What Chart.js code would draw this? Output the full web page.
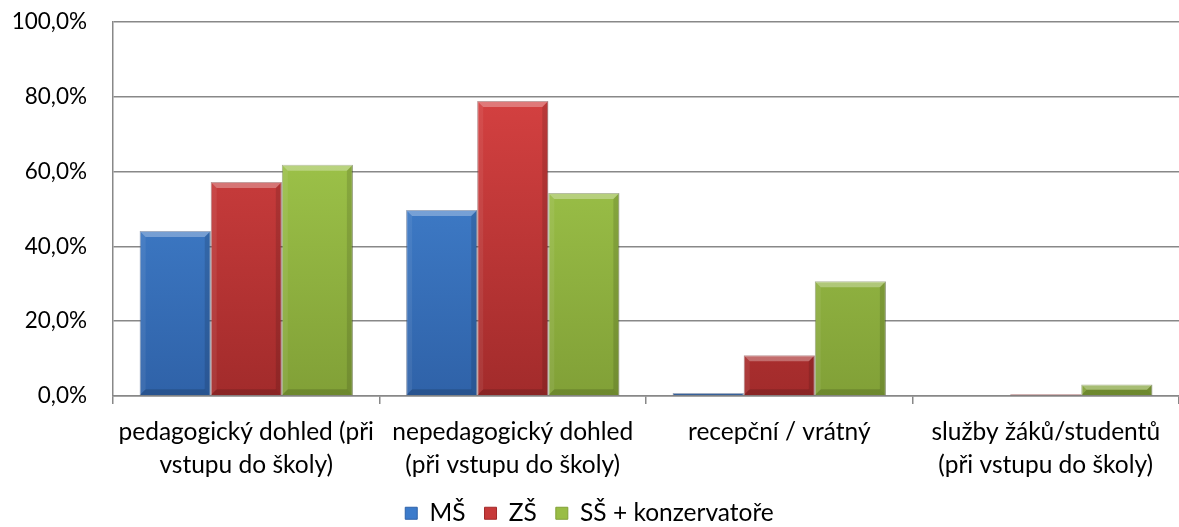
<!DOCTYPE html>
<html>
<head>
<meta charset="utf-8">
<script src="https://cdn.jsdelivr.net/npm/chart.js@4/dist/chart.umd.min.js"></script>
<style>
  html, body { margin: 0; padding: 0; background: #fff; }
  #wrap { width: 1179px; height: 527px; position: relative; }
</style>
</head>
<body>
<div id="wrap"><canvas id="chart"></canvas></div>
<script>
// data
const categories = [
  ["pedagogický dohled (při", "vstupu do školy)"],
  ["nepedagogický dohled", "(při vstupu do školy)"],
  ["recepční / vrátný"],
  ["služby žáků/studentů", "(při vstupu do školy)"]
]
const seriesNames = ["MŠ", "ZŠ", "SŠ + konzervatoře"]
const msValues = [44.1, 49.7, 0.8, 0]
const zsValues = [57.2, 78.9, 10.9, 0.5]
const ssValues = [61.8, 54.3, 30.7, 3.1]
const yTicks = [0, 20, 40, 60, 80, 100]

// colours: [light top, dark bottom, solid]
const palette = [
  ["#4a8fe0", "#2f62a8", "#3c7bcb"],
  ["#e04646", "#a22b2b", "#c73a3a"],
  ["#abd452", "#81a037", "#99bd45"]
]

function barGradient(idx) {
  return function (ctx) {
    const chart = ctx.chart
    const area = chart.chartArea
    if (!area) return palette[idx][2]
    const g = chart.ctx.createLinearGradient(0, area.top, 0, area.bottom)
    g.addColorStop(0, palette[idx][0])
    g.addColorStop(1, palette[idx][1])
    return g
  }
}

// simple bevel look like the office chart
const bevelPlugin = {
  id: "bevel",
  beforeInit(chart) {
    // legend sits lower than chart.js would put it
    const origFit = chart.legend.fit
    chart.legend.fit = function () {
      origFit.bind(chart.legend)()
      this.height = 45
    }
  },
  afterDatasetsDraw(chart) {
    const c = chart.ctx
    chart.data.datasets.forEach((ds, i) => {
      const meta = chart.getDatasetMeta(i)
      meta.data.forEach(bar => {
        const h = bar.base - bar.y
        if (h < 1) return
        const l = bar.x - bar.width / 2
        const r = bar.x + bar.width / 2
        const t = bar.y
        const b = bar.base
        const s = Math.min(6, h / 2)
        c.save()
        c.fillStyle = "rgba(255,255,255,0.3)"
        c.beginPath()
        c.moveTo(l, t); c.lineTo(r, t); c.lineTo(r - s, t + s); c.lineTo(l + s, t + s); c.closePath(); c.fill()
        c.fillStyle = "rgba(255,255,255,0.07)"
        c.beginPath()
        c.moveTo(l, t); c.lineTo(l + s, t + s); c.lineTo(l + s, b - s); c.lineTo(l, b); c.closePath(); c.fill()
        c.fillStyle = "rgba(0,0,0,0.12)"
        c.beginPath()
        c.moveTo(r, t); c.lineTo(r - s, t + s); c.lineTo(r - s, b - s); c.lineTo(r, b); c.closePath(); c.fill()
        c.fillStyle = "rgba(0,0,0,0.15)"
        c.beginPath()
        c.moveTo(l, b); c.lineTo(l + s, b - s); c.lineTo(r - s, b - s); c.lineTo(r, b); c.closePath(); c.fill()
        c.restore()
      })
    })
  }
}

const FONT = "Lato, 'Open Sans', sans-serif"

new Chart(document.getElementById("chart"), {
  type: "bar",
  data: {
    labels: categories,
    datasets: [
      { label: seriesNames[0], data: msValues, backgroundColor: barGradient(0), borderColor: "rgba(30,60,110,0.6)", borderWidth: 1 },
      { label: seriesNames[1], data: zsValues, backgroundColor: barGradient(1), borderColor: "rgba(110,25,25,0.6)", borderWidth: 1 },
      { label: seriesNames[2], data: ssValues, backgroundColor: barGradient(2), borderColor: "rgba(80,100,30,0.6)", borderWidth: 1 }
    ]
  },
  options: {
    responsive: true,
    maintainAspectRatio: false,
    animation: false,
    layout: { padding: { top: 22, right: 0, left: 0, bottom: 0 } },
    datasets: { bar: { categoryPercentage: 0.8, barPercentage: 1.0 } },
    plugins: {
      tooltip: { enabled: false },
      legend: {
        position: "bottom",
        labels: {
          font: { family: FONT, size: 24.5 },
          color: "#000",
          boxWidth: 12,
          boxHeight: 12,
          padding: 19,
          generateLabels(chart) {
            return chart.data.datasets.map((ds, i) => ({
              text: ds.label,
              fillStyle: palette[i][2],
              strokeStyle: palette[i][1],
              lineWidth: 1,
              datasetIndex: i
            }))
          }
        }
      }
    },
    scales: {
      x: {
        grid: { drawOnChartArea: false, drawTicks: true, tickLength: 8, color: "#888", lineWidth: 1.5 },
        border: { color: "#888", width: 1.5 },
        ticks: { font: { family: FONT, size: 24.5, lineHeight: 1.33 }, color: "#000", padding: 12, maxRotation: 0, autoSkip: false },
        afterFit(scale) { scale.height = 86 }
      },
      y: {
        min: 0,
        max: 100,
        afterBuildTicks(scale) { scale.ticks = yTicks.map(v => ({ value: v })) },
        // invisible tick marks give the label gap without extra top padding
        grid: { color: "#888", lineWidth: 1.5, drawTicks: true, tickLength: 26, tickColor: "rgba(0,0,0,0)" },
        border: { color: "#888", width: 1.5 },
        ticks: {
          font: { family: FONT, size: 22.5 },
          color: "#000",
          padding: 0,
          callback: v => v.toFixed(1).replace(".", ",") + "%"
        },
        afterFit(scale) { scale.width = 113 }
      }
    }
  },
  plugins: [bevelPlugin]
})
</script>
</body>
</html>
